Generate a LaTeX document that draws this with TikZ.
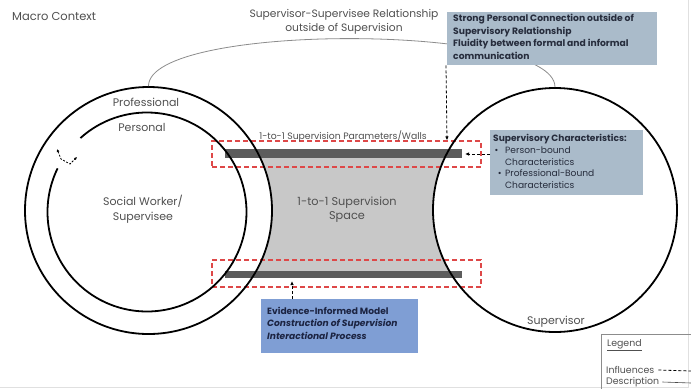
\documentclass[tikz,border=0pt]{standalone}
\usepackage{fontspec}
\setmainfont{Poppins}
\usetikzlibrary{arrows.meta}
\definecolor{txtgray}{RGB}{80,80,80}
\definecolor{boxgray}{RGB}{170,187,202}
\definecolor{boxblue}{RGB}{127,158,212}
\definecolor{spacegray}{RGB}{200,200,200}
\definecolor{wallgray}{RGB}{92,92,92}
\definecolor{wallred}{RGB}{222,72,72}
\definecolor{boxtxt}{RGB}{38,44,60}
\definecolor{navytxt}{RGB}{28,36,66}
\tikzset{
  label/.style={text=txtgray, inner sep=0pt, font=\fontsize{11}{13}\selectfont},
  ring/.style={circle, draw=black, line width=1.8pt, inner sep=0pt},
  wall/.style={fill=wallgray},
  wallzone/.style={draw=wallred, line width=1.3pt, dash pattern=on 5pt off 3pt},
  influence/.style={draw=black, line width=0.8pt, dash pattern=on 3pt off 2pt,
    -{Latex[length=4pt,width=3.5pt]}},
  infobox/.style={fill=boxgray, inner sep=0pt, anchor=north west},
  relation/.style={draw=black!45, line width=0.8pt},
}
\begin{document}
\begin{tikzpicture}[x=1pt,y=-1pt]
\useasboundingbox (0,0) rectangle (691,389);
\fill[white] (0,0) rectangle (691,389);
\draw[black!12, line width=0.6pt] (0,387) -- (688,387) -- (688,0);

% supervision space, bounded by the two outer rings
\fill[spacegray] (259.8,157) -- (445.1,157)
  arc[start angle=154.25, end angle=210, radius=122pt] -- (256.2,271)
  arc[start angle=-29.33, end angle=25.67, radius=123.5pt] -- cycle;

% parameters / walls
\fill[wall] (225,149) rectangle (462,157.5);
\fill[wall] (225,270.5) rectangle (462,278);
\node[wallzone, minimum width=269pt, minimum height=26pt, inner sep=0pt] (topzone) at (346.5,154) {};
\node[wallzone, minimum width=269pt, minimum height=27pt, inner sep=0pt] (botzone) at (346.5,273.5) {};
\coordinate (topwallend) at (465,154);
\coordinate (botwallmid) at (292,281);

% social worker rings
\node[ring, minimum size=247pt] (sw) at (148.5,210.5) {};
\draw[line width=1.8pt] ([shift={(132:99.5pt)}]147,212) arc[start angle=132, end angle=-206, radius=99.5pt];
\draw[line width=0.8pt, dash pattern=on 2pt off 1.5pt, {Latex[length=3pt,width=3pt]}-{Latex[length=3pt,width=3pt]}]
  (57,149) -- (61,159) -- (70,164) -- (77,157);

% supervisor ring
\node[ring, minimum size=244pt] (sup) at (555,210) {};

% relationship outside of supervision
\draw[relation] (sw.north) .. controls +(0,-64) and +(0,-64) .. (sup.north);

% labels
\node[label, anchor=west, font=\fontsize{11.5}{13}\selectfont] (macro) at (12,16) {Macro Context};
\node[label, align=center, font=\fontsize{10.7}{14.5}\selectfont] (rel) at (344,22)
  {Supervisor-Supervisee Relationship\\outside of Supervision};
\node[label] (prof) at (146,102) {Professional};
\node[label] (pers) at (142,127) {Personal};
\node[label, align=center, font=\fontsize{11}{15}\selectfont] (swlab) at (143,209) {Social Worker/\\Supervisee};
\node[label, font=\fontsize{9.3}{10}\selectfont] (walls) at (343,136) {1-to-1 Supervision Parameters/Walls};
\node[label, align=center, font=\fontsize{11.3}{14}\selectfont] (space) at (347,210) {1-to-1 Supervision\\Space};
\node[label] (suplab) at (556,322) {Supervisor};

% descriptions
\node[infobox, minimum width=210pt, minimum height=53pt] (conn) at (447,12) {};
\node[anchor=north west, inner sep=0pt, align=left, text=boxtxt,
  font=\fontsize{9.2}{12.5}\selectfont\bfseries] (conntxt) at (453,14)
  {Strong Personal Connection outside of\\Supervisory Relationship\\Fluidity between formal and informal\\communication};

\node[infobox, minimum width=153pt, minimum height=65pt] (chars) at (490,130) {};
\node[anchor=north west, inner sep=0pt, align=left, text=boxtxt,
  font=\fontsize{9.1}{11.8}\selectfont] (charstxt) at (493,134)
  {\textbf{Supervisory Characteristics:}\\
   \makebox[12pt][l]{\,\textbullet}Person-bound\\
   \makebox[12pt][l]{}Characteristics\\
   \makebox[12pt][l]{}\llap{\textbullet\hspace{3.5pt}}Professional-Bound\\
   \makebox[12pt][l]{}Characteristics};

\node[infobox, fill=boxblue, minimum width=157pt, minimum height=54pt] (model) at (261,299) {};
\node[anchor=north west, inner sep=0pt, align=left, text=navytxt,
  font=\fontsize{9.1}{12.5}\selectfont\bfseries] (modeltxt) at (267,307)
  {Evidence-Informed Model\\\itshape Construction of Supervision\\\itshape Interactional Process};

% influences
\draw[influence] ([xshift=-1pt]conn.south west) -- (topzone.north -| conn.south west);
\draw[influence] (chars.west |- topwallend) -- (topwallend);
\draw[influence] (model.north -| botwallmid) -- (botwallmid);

% legend
\draw[black!45, line width=0.6pt] (691,334) -- (601,334) -- (601,389);
\node[anchor=west, inner sep=0pt, text=txtgray, font=\fontsize{9.4}{10}\selectfont] (legend) at (607,345) {\underline{Legend}};
\node[anchor=west, inner sep=0pt, text=txtgray, font=\fontsize{9.4}{10}\selectfont] (infl) at (606,370) {Influences};
\node[anchor=west, inner sep=0pt, text=txtgray, font=\fontsize{9.4}{10}\selectfont] (descr) at (606,382) {Description};
\coordinate (inflend) at (691,371);
\coordinate (descrend) at (691,383);
\draw[black, line width=0.8pt, dash pattern=on 3pt off 2pt] ([xshift=4pt]infl.east) -- (inflend);
\draw[black!70, line width=0.6pt] ([xshift=3pt]descr.east) -- (descrend);
\end{tikzpicture}
\end{document}
